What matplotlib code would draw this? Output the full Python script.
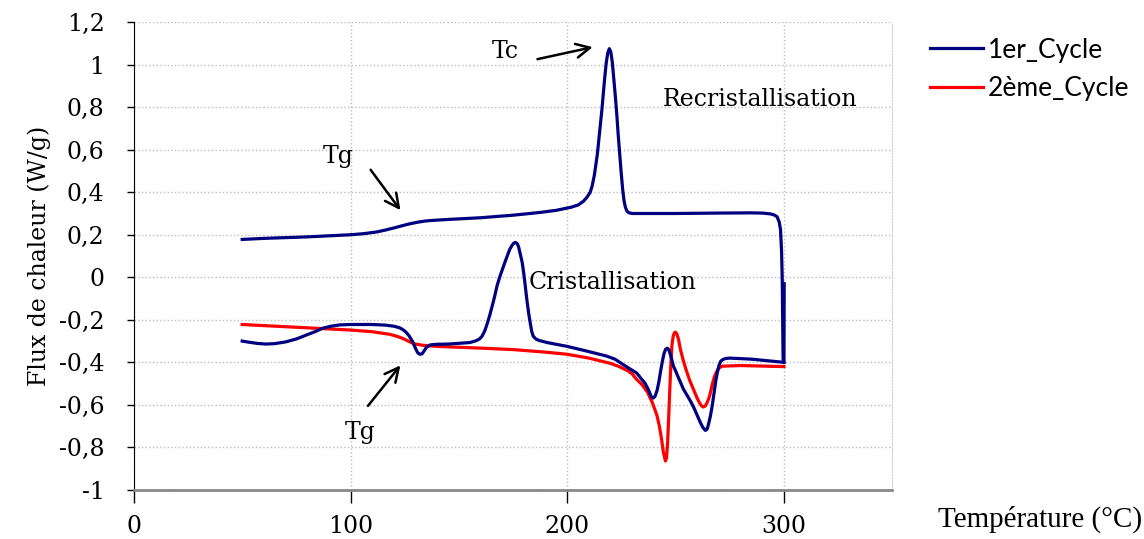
import matplotlib
matplotlib.use("Agg")
import matplotlib.pyplot as plt

# 1er cycle, first branch (heating, Tg + recristallisation peak)
temp_c1a = [50, 60, 80, 100, 106, 112, 116, 120, 124, 127.5, 131, 134, 137, 145, 160, 175,
            187.5, 195, 202, 205, 207.4, 209, 210.6, 211.5, 212.5, 213.2, 213.9, 214.6,
            215.3, 216, 216.6, 217.3, 218, 218.7, 219.4, 220.1, 220.8, 221.5, 222.2, 222.9,
            223.5, 224.2, 224.9, 225.6, 226.2, 226.8, 227.5, 228.5, 230, 250, 270, 285, 290,
            293.8, 295.5, 296.8, 297.8, 298.4, 298.9, 299.2, 299.6, 300]
flux_c1a = [0.178, 0.183, 0.19, 0.20, 0.205, 0.213, 0.222, 0.232, 0.243, 0.252, 0.259,
            0.264, 0.267, 0.272, 0.28, 0.292, 0.305, 0.315, 0.33, 0.34, 0.357, 0.375, 0.40,
            0.43, 0.48, 0.53, 0.58, 0.65, 0.72, 0.79, 0.86, 0.94, 1.01, 1.055, 1.075, 1.06,
            1.01, 0.93, 0.85, 0.76, 0.67, 0.58, 0.49, 0.41, 0.36, 0.33, 0.312, 0.303, 0.30,
            0.30, 0.302, 0.303, 0.302, 0.298, 0.293, 0.285, 0.26, 0.225, 0.12, -0.01,
            -0.385, -0.40]

# 1er cycle, second branch (cristallisation peak, fusion)
temp_c1b = [50, 53, 57, 61, 65, 70, 75, 80, 84, 87, 91, 95, 100, 110, 116, 120, 122.5, 124,
            125.5, 127, 128.5, 130, 131, 132, 133, 134, 135, 136.7, 140, 145, 155, 158,
            159.5, 160.7, 162, 163, 164.2, 165.5, 166.6, 167.6, 168.8, 170, 171.2, 172.3,
            173.4, 174.5, 175.3, 176, 176.8, 177.5, 178.3, 179.2, 179.9, 180.5, 181, 181.5,
            182.2, 183, 183.6, 184.3, 185.5, 187, 190.8, 200, 209, 218, 222, 225, 228, 232,
            234, 236, 237.5, 238.7, 239.7, 240.5, 241.5, 242.3, 243, 243.8, 244.6, 245.4,
            246.2, 246.8, 247.5, 248.3, 249, 250, 251, 252.3, 253.6, 255.3, 257, 258.5, 260,
            261.3, 262.5, 263.7, 264.5, 265.2, 266, 266.8, 267.8, 268.5, 269.2, 270, 270.8,
            271.6, 273, 275, 285, 300, 300.1]
flux_c1b = [-0.30, -0.305, -0.311, -0.314, -0.312, -0.304, -0.29, -0.27, -0.254, -0.24,
            -0.23, -0.224, -0.222, -0.222, -0.225, -0.23, -0.237, -0.245, -0.257, -0.275,
            -0.30, -0.335, -0.355, -0.362, -0.36, -0.345, -0.33, -0.318, -0.315, -0.314,
            -0.307, -0.298, -0.29, -0.277, -0.25, -0.22, -0.18, -0.13, -0.085, -0.04, 0.0,
            0.035, 0.07, 0.10, 0.13, 0.15, 0.16, 0.164, 0.16, 0.145, 0.11, 0.07, 0.02, -0.03,
            -0.075, -0.117, -0.17, -0.22, -0.255, -0.277, -0.29, -0.297, -0.307, -0.325,
            -0.347, -0.37, -0.385, -0.405, -0.425, -0.45, -0.475, -0.50, -0.53, -0.56,
            -0.568, -0.56, -0.53, -0.49, -0.446, -0.40, -0.36, -0.338, -0.333, -0.34, -0.36,
            -0.39, -0.418, -0.44, -0.465, -0.495, -0.526, -0.555, -0.585, -0.615, -0.65,
            -0.68, -0.705, -0.72, -0.715, -0.69, -0.655, -0.61, -0.54, -0.49, -0.45, -0.415,
            -0.395, -0.388, -0.382, -0.38, -0.385, -0.40, -0.03]

# 2eme cycle
temp_c2 = [50, 75, 100, 110, 118, 121, 124, 126, 128, 130, 133.5, 140, 160, 175, 190, 200,
           210, 220, 224, 228, 230, 232, 234.5, 237, 239.3, 241.4, 242.5, 243.5, 244.3,
           245.3, 245.8, 246.3, 246.8, 247.3, 247.8, 248.3, 248.9, 249.5, 249.9, 250.5,
           251.3, 252.2, 253.5, 255, 256.5, 258.2, 259.8, 261, 262, 262.8, 263.7, 264.5,
           265.3, 266, 267, 268, 269.1, 270.2, 271.6, 280, 300]
flux_c2 = [-0.222, -0.235, -0.248, -0.256, -0.268, -0.276, -0.287, -0.297, -0.307, -0.314,
           -0.32, -0.325, -0.333, -0.34, -0.352, -0.362, -0.38, -0.405, -0.42, -0.44,
           -0.455, -0.48, -0.505, -0.54, -0.59, -0.65, -0.70, -0.76, -0.82, -0.864, -0.85,
           -0.78, -0.66, -0.53, -0.41, -0.32, -0.275, -0.26, -0.258, -0.265, -0.29, -0.338,
           -0.39, -0.44, -0.485, -0.526, -0.565, -0.59, -0.605, -0.61, -0.605, -0.59, -0.57,
           -0.545, -0.50, -0.465, -0.44, -0.425, -0.418, -0.415, -0.42]

x_ticks = [0, 100, 200, 300]
y_ticks = [-1, -0.8, -0.6, -0.4, -0.2, 0, 0.2, 0.4, 0.6, 0.8, 1, 1.2]
y_labels = ['-1', '-0,8', '-0,6', '-0,4', '-0,2', '0', '0,2', '0,4', '0,6', '0,8', '1', '1,2']

serif = 'DejaVu Serif'
fs = 17

fig = plt.figure(figsize=(11.44, 5.39), dpi=100)
ax = fig.add_axes([0.117, 0.091, 0.663, 0.868])

blue = '#000080'
red = '#ff0000'
ax.plot(temp_c1a, flux_c1a, color=blue, lw=2.3, label='1er_Cycle', zorder=3,
        solid_joinstyle='round')
ax.plot(temp_c1b, flux_c1b, color=blue, lw=2.3, zorder=3, solid_joinstyle='round')
ax.plot(temp_c2, flux_c2, color=red, lw=2.3, label='2ème_Cycle', zorder=2,
        solid_joinstyle='round')

ax.set_xlim(0, 350)
ax.set_ylim(-1, 1.2)
ax.set_xticks(x_ticks)
ax.set_xticklabels([str(t) for t in x_ticks], fontfamily=serif, fontsize=fs)
ax.set_yticks(y_ticks)
ax.set_yticklabels(y_labels, fontfamily=serif, fontsize=fs)
ax.tick_params(axis='x', direction='out', length=9, width=1, pad=9)
ax.tick_params(axis='y', direction='out', length=5, width=1, pad=16)
ax.grid(True, color='#bdbdbd', linestyle=':', linewidth=1)
ax.set_axisbelow(True)

ax.spines['top'].set_visible(False)
ax.spines['right'].set_color('#cccccc')
ax.spines['right'].set_linestyle(':')
ax.spines['bottom'].set_color('#888888')
ax.spines['bottom'].set_linewidth(2)
ax.spines['left'].set_color('black')

ax.set_ylabel('Flux de chaleur (W/g)', fontfamily=serif, fontsize=fs, labelpad=6)
fig.text(0.998, 0.036, 'Température (°C)', ha='right', va='center',
         fontfamily='Liberation Serif', fontsize=21)

arrow = dict(arrowstyle='->', color='black', lw=1.8, mutation_scale=25)
ax.annotate('', xy=(213, 1.085), xytext=(185, 1.023), arrowprops=arrow)
ax.text(171.4, 1.061, 'Tc', fontfamily=serif, fontsize=fs, ha='center', va='center')
ax.annotate('', xy=(123.8, 0.305), xytext=(108.5, 0.516), arrowprops=arrow)
ax.text(94.2, 0.568, 'Tg', fontfamily=serif, fontsize=fs, ha='center', va='center')
ax.annotate('', xy=(123.8, -0.404), xytext=(107.2, -0.615), arrowprops=arrow)
ax.text(104.4, -0.732, 'Tg', fontfamily=serif, fontsize=fs, ha='center', va='center')
ax.text(289, 0.836, 'Recristallisation', fontfamily=serif, fontsize=fs,
        ha='center', va='center')
ax.text(182, -0.023, 'Cristallisation', fontfamily=serif, fontsize=fs,
        ha='left', va='center')

fig.legend(loc='upper left', bbox_to_anchor=(0.813, 0.93), frameon=False,
           prop={'family': 'Lato', 'size': 19}, handlelength=2.0, handletextpad=0.2,
           labelspacing=0.5, borderpad=0, borderaxespad=0)

fig.savefig('out.png', dpi=100)
